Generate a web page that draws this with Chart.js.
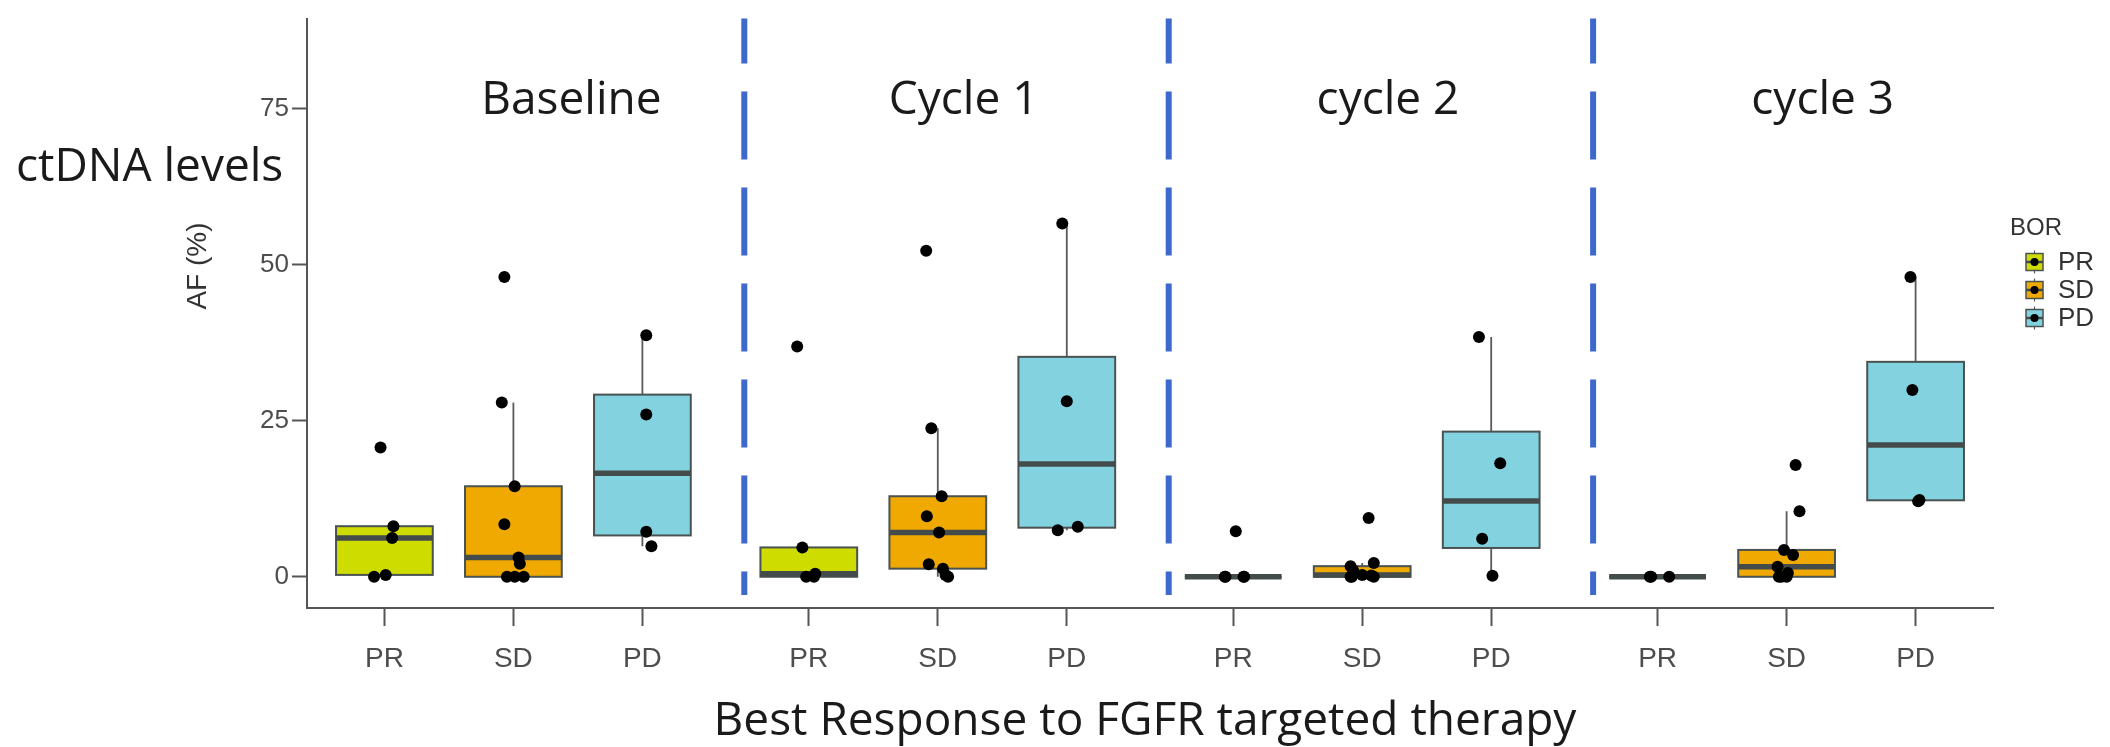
<!DOCTYPE html>
<html>
<head>
<meta charset="utf-8">
<title>ctDNA levels by best response</title>
<script src="https://cdn.jsdelivr.net/npm/chart.js@4.4.1/dist/chart.umd.min.js"></script>
<style>
  html, body { margin: 0; padding: 0; background: #ffffff; }
  canvas { display: block; }
</style>
</head>
<body>
<canvas id="chart" width="2110" height="747"></canvas>
<script>
// Best-overall-response groups and sampling timepoints
const responseGroups = ['PR', 'SD', 'PD'];
const timepoints = ['Baseline', 'Cycle 1', 'cycle 2', 'cycle 3'];
const yTickValues = [0, 25, 50, 75];

// Allele fraction AF (%) per patient; jitter is the horizontal spread of each dot (category widths)
const baselinePR = [20.7, 8.1, 6.2, 0.0, 0.3];
const baselinePRJitter = [-0.03, 0.07, 0.06, -0.08, 0.01];
const baselineSD = [48.0, 27.9, 14.5, 8.4, 3.1, 2.1, 0.0, 0.0, 0.0];
const baselineSDJitter = [-0.07, -0.09, 0.01, -0.07, 0.04, 0.05, -0.05, 0.01, 0.08];
const baselinePD = [38.7, 26.0, 7.2, 4.9];
const baselinePDJitter = [0.03, 0.03, 0.03, 0.07];

const cycle1PR = [36.9, 4.7, 0.5, 0.0, 0.0];
const cycle1PRJitter = [-0.09, -0.05, 0.05, -0.02, 0.04];
const cycle1SD = [52.2, 23.8, 12.9, 9.7, 7.1, 2.0, 1.3, 0.3, 0.0];
const cycle1SDJitter = [-0.09, -0.05, 0.03, -0.085, 0.01, -0.07, 0.04, 0.06, 0.08];
const cycle1PD = [56.6, 28.1, 8.0, 7.45];
const cycle1PDJitter = [-0.035, 0.0, 0.085, -0.07];

const cycle2PR = [7.3, 0.0, 0.0, 0.0, 0.0];
const cycle2PRJitter = [0.02, -0.065, 0.085, -0.06, 0.08];
const cycle2SD = [9.4, 2.2, 1.7, 1.0, 0.3, 0.2, 0.0, 0.0, 0.0];
const cycle2SDJitter = [0.05, 0.09, -0.09, -0.07, 0.0, 0.07, -0.09, 0.09, -0.08];
const cycle2PD = [38.4, 18.2, 6.1, 0.16];
const cycle2PDJitter = [-0.095, 0.07, -0.07, 0.01];

const cycle3PR = [0.0, 0.0, 0.0];
const cycle3PRJitter = [-0.06, 0.09, -0.05];
const cycle3SD = [17.9, 10.5, 4.3, 3.5, 1.6, 0.6, 0.0, 0.0, 0.0];
const cycle3SDJitter = [0.07, 0.1, -0.02, 0.05, -0.07, 0.01, -0.04, -0.06, 0.0];
const cycle3PD = [48.0, 29.9, 12.3, 12.1];
const cycle3PDJitter = [-0.04, -0.025, 0.03, 0.02];

// Table of groups, [timepoint][response]
const groupValues = [
  [baselinePR, baselineSD, baselinePD],
  [cycle1PR, cycle1SD, cycle1PD],
  [cycle2PR, cycle2SD, cycle2PD],
  [cycle3PR, cycle3SD, cycle3PD]
];
const groupJitter = [
  [baselinePRJitter, baselineSDJitter, baselinePDJitter],
  [cycle1PRJitter, cycle1SDJitter, cycle1PDJitter],
  [cycle2PRJitter, cycle2SDJitter, cycle2PDJitter],
  [cycle3PRJitter, cycle3SDJitter, cycle3PDJitter]
];

// ---- layout & style ----
const PANEL_STRIDE = 3.29;           // distance between panels on the x scale
const BOX_WIDTH = 0.75;
const TITLE_SHIFT = [0.45, 0.20, 0.20, 0.28];
const fillColors = { PR: '#cfdc00', SD: '#f0a900', PD: '#82d3df' };
const SANS = "'Liberation Sans', Arial, sans-serif";
const HUMANIST = "'Open Sans', 'Noto Sans', sans-serif";

function catPos(t, g) { return t * PANEL_STRIDE + g; }

const tickPositions = [];
const tickLabels = [];
timepoints.forEach((tp, t) => responseGroups.forEach((g, gi) => {
  tickPositions.push(catPos(t, gi));
  tickLabels.push(g);
}));

// R type-7 quantile
function quantile(sorted, p) {
  const h = (sorted.length - 1) * p;
  const lo = Math.floor(h), hi = Math.ceil(h);
  return sorted[lo] + (h - lo) * (sorted[hi] - sorted[lo]);
}
function boxStats(values) {
  const s = values.slice().sort((a, b) => a - b);
  const q1 = quantile(s, 0.25), med = quantile(s, 0.5), q3 = quantile(s, 0.75);
  const iqr = q3 - q1;
  const inside = s.filter(v => v >= q1 - 1.5 * iqr && v <= q3 + 1.5 * iqr);
  return { q1, med, q3, lo: Math.min(...inside), hi: Math.max(...inside) };
}

const boxes = [];
timepoints.forEach((tp, t) => responseGroups.forEach((g, gi) => {
  boxes.push({ pos: catPos(t, gi), group: g, ...boxStats(groupValues[t][gi]) });
}));

const datasets = responseGroups.map((g, gi) => ({
  label: g,
  data: timepoints.flatMap((tp, t) => groupValues[t][gi].map((v, k) => ({
    x: catPos(t, gi) + groupJitter[t][gi][k], y: v
  }))),
  backgroundColor: '#000000',
  borderWidth: 0,
  pointRadius: 6,
  pointHoverRadius: 6
}));

// Boxes, whiskers, medians and the dashed panel separators
const boxPlugin = {
  id: 'boxes',
  beforeDatasetsDraw(chart) {
    const { ctx, chartArea } = chart;
    const xs = chart.scales.x, ys = chart.scales.y;
    ctx.save();
    // dashed separators
    ctx.strokeStyle = '#3d68cc';
    ctx.lineWidth = 6;
    ctx.setLineDash([68, 28]);
    ctx.lineDashOffset = 23;
    for (let t = 1; t < timepoints.length; t++) {
      const px = xs.getPixelForValue(t * PANEL_STRIDE - 0.5);
      ctx.beginPath();
      ctx.moveTo(px, chartArea.top);
      ctx.lineTo(px, ys.getPixelForValue(-2.9));
      ctx.stroke();
    }
    ctx.setLineDash([]);
    boxes.forEach(b => {
      const cx = xs.getPixelForValue(b.pos);
      const l = xs.getPixelForValue(b.pos - BOX_WIDTH / 2);
      const r = xs.getPixelForValue(b.pos + BOX_WIDTH / 2);
      const yq1 = ys.getPixelForValue(b.q1), yq3 = ys.getPixelForValue(b.q3);
      // whiskers
      ctx.strokeStyle = '#5a5a5a';
      ctx.lineWidth = 1.8;
      ctx.beginPath();
      ctx.moveTo(cx, yq3); ctx.lineTo(cx, ys.getPixelForValue(b.hi));
      ctx.moveTo(cx, yq1); ctx.lineTo(cx, ys.getPixelForValue(b.lo));
      ctx.stroke();
      // box
      ctx.fillStyle = fillColors[b.group];
      ctx.fillRect(l, yq3, r - l, yq1 - yq3);
      ctx.strokeStyle = '#4a5252';
      ctx.lineWidth = 2;
      ctx.strokeRect(l, yq3, r - l, yq1 - yq3);
      // median
      ctx.strokeStyle = '#434b4b';
      ctx.lineWidth = 5.5;
      ctx.beginPath();
      const ym = ys.getPixelForValue(b.med);
      ctx.moveTo(l, ym); ctx.lineTo(r, ym);
      ctx.stroke();
    });
    ctx.restore();
  }
};

// Panel titles, axis titles and the BOR key
const textPlugin = {
  id: 'texts',
  afterDraw(chart) {
    const { ctx } = chart;
    const xs = chart.scales.x;
    ctx.save();
    ctx.fillStyle = '#1a1a1a';
    ctx.font = `46px ${HUMANIST}`;
    ctx.textBaseline = 'alphabetic';
    ctx.textAlign = 'center';
    timepoints.forEach((tp, t) => {
      ctx.fillText(tp, xs.getPixelForValue(catPos(t, 1) + TITLE_SHIFT[t]), 114);
    });
    ctx.textAlign = 'left';
    ctx.fillText('ctDNA levels', 16, 181);
    ctx.textAlign = 'center';
    ctx.fillText('Best Response to FGFR targeted therapy', 1145, 735);

    // y axis title
    ctx.save();
    ctx.translate(198, 266);
    ctx.rotate(-Math.PI / 2);
    ctx.fillStyle = '#333333';
    ctx.font = `28px ${SANS}`;
    ctx.textAlign = 'center';
    ctx.textBaseline = 'middle';
    ctx.fillText('AF (%)', 0, 0);
    ctx.restore();

    // legend
    ctx.fillStyle = '#333333';
    ctx.font = `24px ${SANS}`;
    ctx.textAlign = 'left';
    ctx.textBaseline = 'middle';
    ctx.fillText('BOR', 2010, 228);
    responseGroups.forEach((g, i) => {
      const cy = 262 + i * 28;
      const kx = 2026, ks = 17;
      ctx.strokeStyle = '#5a5a5a';
      ctx.lineWidth = 1.2;
      ctx.beginPath();
      ctx.moveTo(kx + ks / 2, cy - ks / 2 - 3); ctx.lineTo(kx + ks / 2, cy + ks / 2 + 3);
      ctx.stroke();
      ctx.fillStyle = fillColors[g];
      ctx.fillRect(kx, cy - ks / 2, ks, ks);
      ctx.strokeStyle = '#4a5252';
      ctx.lineWidth = 1.5;
      ctx.strokeRect(kx, cy - ks / 2, ks, ks);
      ctx.strokeStyle = '#434b4b';
      ctx.lineWidth = 2.5;
      ctx.beginPath();
      ctx.moveTo(kx, cy); ctx.lineTo(kx + ks, cy);
      ctx.stroke();
      ctx.fillStyle = '#000000';
      ctx.beginPath();
      ctx.arc(kx + ks / 2, cy, 4, 0, Math.PI * 2);
      ctx.fill();
      ctx.fillStyle = '#333333';
      ctx.font = `26px ${SANS}`;
      ctx.fillText(g, 2058, cy + 1);
    });
    ctx.restore();
  }
};

new Chart(document.getElementById('chart'), {
  type: 'scatter',
  data: { datasets },
  options: {
    responsive: false,
    animation: false,
    devicePixelRatio: 1,
    layout: { padding: { left: 0, right: 117, top: 17, bottom: 0 } },
    plugins: { legend: { display: false }, tooltip: { enabled: false } },
    scales: {
      x: {
        type: 'linear',
        min: -0.6,
        max: 3 * PANEL_STRIDE + 2.6,
        afterFit(scale) { scale.height = 139; },
        afterBuildTicks(scale) { scale.ticks = tickPositions.map(v => ({ value: v })); },
        ticks: {
          autoSkip: false, maxRotation: 0, padding: 16,
          color: '#4d4d4d', font: { family: SANS, size: 28 },
          callback: (v, i) => tickLabels[i]
        },
        grid: { drawOnChartArea: false, drawTicks: true, tickLength: 18, tickWidth: 2, tickColor: '#555555' },
        border: { display: true, color: '#555555', width: 2 }
      },
      y: {
        min: -5.0,
        max: 89.4,
        afterFit(scale) { scale.width = 307; },
        afterBuildTicks(scale) { scale.ticks = yTickValues.map(v => ({ value: v })); },
        ticks: { padding: 3, color: '#4d4d4d', font: { family: SANS, size: 26 } },
        grid: { drawOnChartArea: false, drawTicks: true, tickLength: 15, tickWidth: 2, tickColor: '#555555' },
        border: { display: true, color: '#555555', width: 2 }
      }
    }
  },
  plugins: [boxPlugin, textPlugin]
});
</script>
</body>
</html>
